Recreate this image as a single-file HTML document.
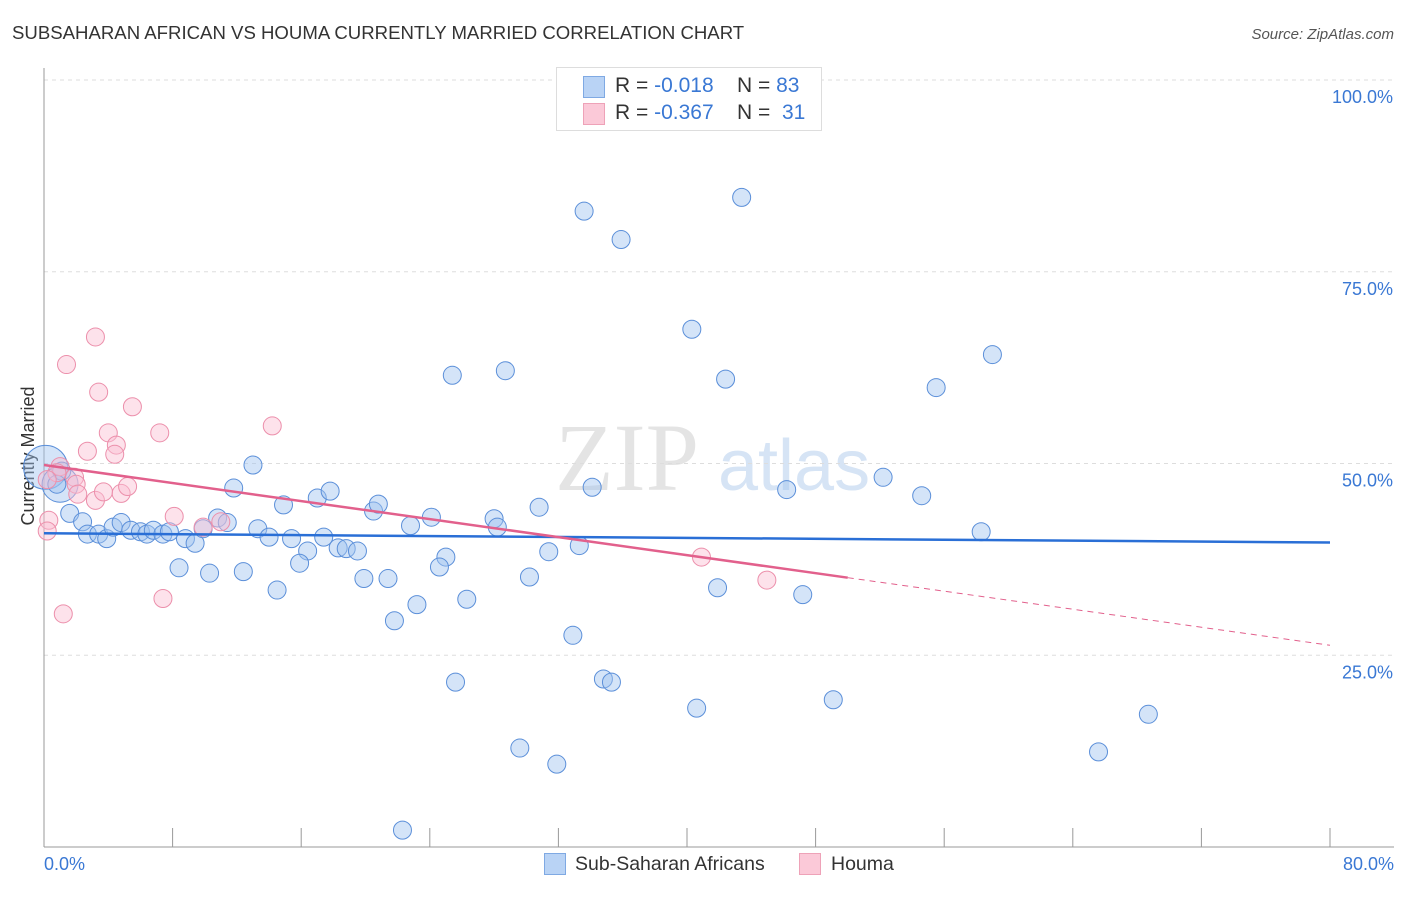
<!DOCTYPE html>
<html><head><meta charset="utf-8"><style>
body{margin:0;background:#fff;font-family:"Liberation Sans",sans-serif}
#wrap{position:relative;width:1406px;height:892px}
</style></head><body>
<div id="wrap">
<svg id="svg" width="1406" height="892" xmlns="http://www.w3.org/2000/svg">
<text x="12" y="39" font-size="18.6" fill="#333">SUBSAHARAN AFRICAN VS HOUMA CURRENTLY MARRIED CORRELATION CHART</text>
<text x="1394" y="39" font-size="15" fill="#555" font-style="italic" text-anchor="end">Source: ZipAtlas.com</text>
<text x="34" y="456" font-size="18" fill="#333" text-anchor="middle" transform="rotate(-90 34 456)">Currently Married</text>
<text x="555" y="490" font-size="96" fill="#e4e4e4" font-family="Liberation Serif,serif">ZIP</text>
<text x="718" y="490" font-size="72" fill="#d6e4f5">atlas</text>
<g id="grid"></g><g id="marks"></g>
</svg>
<div style="position:absolute;left:556px;top:67px;width:264px;height:62px;border:1px solid #ddd;background:#fff;font-size:21px;color:#333">
 <div style="position:absolute;left:26px;top:8px;width:20px;height:20px;background:#b9d3f5;border:1px solid #7fa9e3"></div>
 <div style="position:absolute;left:58px;top:6px">R = <span style="color:#3a78d4">-0.018</span>&nbsp;&nbsp;&nbsp; N = <span style="color:#3a78d4">83</span></div>
 <div style="position:absolute;left:26px;top:35px;width:20px;height:20px;background:#fbc9d8;border:1px solid #eea2b8"></div>
 <div style="position:absolute;left:58px;top:33px">R = <span style="color:#3a78d4">-0.367</span>&nbsp;&nbsp;&nbsp; N = &nbsp;<span style="color:#3a78d4">31</span></div>
</div>
<div style="position:absolute;left:544px;top:853px;width:20px;height:20px;background:#b9d3f5;border:1px solid #7fa9e3"></div>
<div style="position:absolute;left:575px;top:853px;font-size:19.5px;color:#333">Sub-Saharan Africans</div>
<div style="position:absolute;left:799px;top:853px;width:20px;height:20px;background:#fbc9d8;border:1px solid #eea2b8"></div>
<div style="position:absolute;left:831px;top:853px;font-size:19.5px;color:#333">Houma</div>
</div>
<script>
const yTicks=[100,75,50,25];
const xLabels=["0.0%","80.0%"];
const blueX=[33.6,43.4,35.9,40.3,25.4,28.7,42.4,59.0,55.5,13.0,11.8,17.0,17.8,14.9,20.5,20.8,24.1,34.1,30.8,46.2,52.2,54.6,28.0,28.2,22.8,58.3,1.1,0.8,1.6,2.4,2.7,3.4,3.9,4.3,4.8,5.4,6.0,6.4,6.8,7.4,7.8,8.8,9.4,10.8,9.9,11.4,13.3,14.0,15.4,16.4,15.9,17.4,18.3,18.8,19.5,25.0,24.6,31.4,33.3,8.4,10.3,12.4,14.5,19.9,21.4,23.2,26.3,30.2,21.8,32.9,41.9,47.2,25.6,34.8,35.3,40.6,49.1,68.7,29.6,31.9,65.6,22.3];
const blueY=[82.9,84.7,79.2,67.5,61.5,62.1,61.0,64.2,59.9,49.8,46.8,45.5,46.4,44.6,43.8,44.7,43.0,46.9,44.3,46.6,48.2,45.8,42.8,41.7,41.9,41.1,49.0,47.3,43.5,42.4,40.8,40.8,40.2,41.7,42.3,41.3,41.1,40.8,41.3,40.8,41.1,40.2,39.6,42.9,41.5,42.3,41.5,40.4,40.2,38.6,37.0,40.4,39.0,38.9,38.6,37.8,36.5,38.5,39.3,36.4,35.7,35.9,33.5,35.0,35.0,31.6,32.3,35.2,29.5,27.6,33.8,32.9,21.5,21.9,21.5,18.1,19.2,17.3,12.9,10.8,12.4,2.2];
const pinkX=[3.2,1.4,3.4,5.5,7.2,4.0,4.5,2.7,4.4,14.2,1.0,0.8,1.9,2.0,2.1,3.2,3.7,4.8,5.2,8.1,9.9,11.0,0.3,0.2,1.2,7.4,40.9,44.968,0.2];
const pinkY=[66.5,62.9,59.3,57.4,54.0,54.0,52.4,51.6,51.2,54.9,49.6,48.8,48.2,47.3,46.0,45.2,46.3,46.1,47.0,43.1,41.7,42.4,42.6,41.2,30.4,32.4,37.8,34.8,47.9];
const blueTrend=[40.9,39.7];
const pinkTrend=[49.8,26.3];
const pinkSolidEnd=50;

const X0=44,X1=1330,Y0=847,Y100=80;
const sx=v=>X0+(v/80)*(X1-X0);
const sy=v=>Y0-(v/100)*(Y0-Y100);
const NS="http://www.w3.org/2000/svg";
function mk(tag,attrs,parent){const e=document.createElementNS(NS,tag);for(const k in attrs)e.setAttribute(k,attrs[k]);parent.appendChild(e);return e;}
const grid=document.getElementById('grid'),marks=document.getElementById('marks');
yTicks.forEach(t=>{
 const l=mk('line',{x1:X0,x2:1394,y1:sy(t),y2:sy(t),stroke:'#ddd','stroke-dasharray':'4,4'},grid);
 
 
 const tx=mk('text',{x:1393,y:sy(t)+23,'font-size':18,fill:'#3a78d4','text-anchor':'end'},grid);
 tx.textContent=t.toFixed(1)+'%';
 
 
});
const ax=mk('line',{x1:X0,x2:X0,y1:68,y2:Y0,stroke:'#999'},grid);


const bx=mk('line',{x1:X0,x2:1394,y1:Y0,y2:Y0,stroke:'#999'},grid);


for(let i=1;i<=10;i++){
 const t=mk('line',{x1:sx(i*8),x2:sx(i*8),y1:828,y2:Y0,stroke:'#999'},grid);
 
 
}
const xl0=mk('text',{x:44,y:870,'font-size':18,fill:'#3a78d4'},grid);xl0.textContent=xLabels[0];


const xl1=mk('text',{x:1394,y:870,'font-size':18,fill:'#3a78d4','text-anchor':'end'},grid);xl1.textContent=xLabels[1];


[[0.1,49.5,22],[1.0,47.3,18]].forEach(b=>{
 const c=mk('circle',{cx:sx(b[0]),cy:sy(b[1]),r:b[2],fill:'rgba(160,195,240,0.45)',stroke:'#5b8fd9','stroke-width':1},marks);
 
 
});
blueX.forEach((x,i)=>{
 const c=mk('circle',{cx:sx(x),cy:sy(blueY[i]),r:9,fill:'rgba(160,195,240,0.45)',stroke:'#5b8fd9','stroke-width':1},marks);
 
 
});
pinkX.forEach((x,i)=>{
 const c=mk('circle',{cx:sx(x),cy:sy(pinkY[i]),r:9,fill:'rgba(250,190,210,0.45)',stroke:'#ec8fab','stroke-width':1},marks);
 
 
});
const bl=mk('line',{x1:sx(0),y1:sy(blueTrend[0]),x2:sx(80),y2:sy(blueTrend[1]),stroke:'#2a6fd6','stroke-width':2.5},marks);


const pAt=x=>pinkTrend[0]+(pinkTrend[1]-pinkTrend[0])*x/80;
const pl=mk('line',{x1:sx(0),y1:sy(pAt(0)),x2:sx(pinkSolidEnd),y2:sy(pAt(pinkSolidEnd)),stroke:'#e2608c','stroke-width':2.5},marks);


const pd=mk('line',{x1:sx(pinkSolidEnd),y1:sy(pAt(pinkSolidEnd)),x2:sx(80),y2:sy(pAt(80)),stroke:'#e2608c','stroke-width':1,'stroke-dasharray':'6,5'},marks);


</script>
</body></html>
